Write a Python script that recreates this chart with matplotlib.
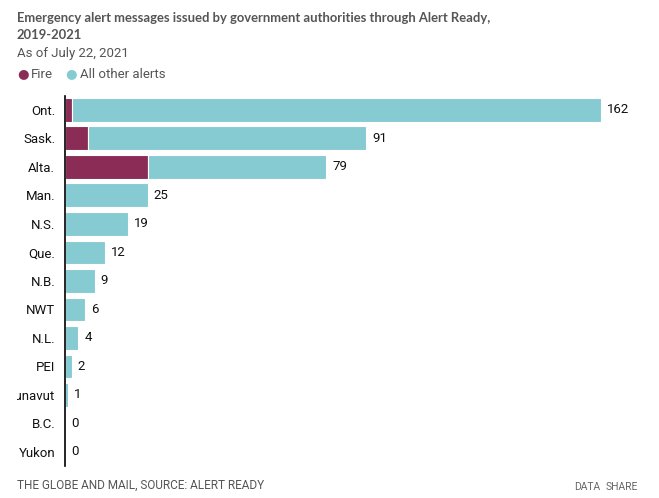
import matplotlib.pyplot as plt
from matplotlib.transforms import Bbox, TransformedBbox

provinces = ['Ont.', 'Sask.', 'Alta.', 'Man.', 'N.S.', 'Que.', 'N.B.', 'NWT',
             'N.L.', 'PEI', 'Nunavut', 'B.C.', 'Yukon']
totals = [162, 91, 79, 25, 19, 12, 9, 6, 4, 2, 1, 0, 0]
fire = [2, 7, 25, 0, 0, 0, 0, 0, 0, 0, 0, 0, 0]
other = [t - f for t, f in zip(totals, fire)]

fire_color = '#8b2c56'
other_color = '#86cad2'
grey = '#555555'

plt.rcParams['font.family'] = ['Roboto', 'DejaVu Sans']

fig = plt.figure(figsize=(6.59, 4.98), dpi=100)
ax = fig.add_axes([65 / 659, 0.0638, 536 / 659, 0.744])

y = list(range(len(provinces)))
ax.barh(y, fire, height=0.84, color=fire_color, edgecolor='white', linewidth=0.8)
ax.barh(y, other, left=fire, height=0.84, color=other_color, edgecolor='white', linewidth=0.8)

for yi, t in zip(y, totals):
    ax.text(t + 1.8, yi, str(t), va='center', ha='left', fontsize=9.5, color='#111111')

ax.set_xlim(0, 162)
ax.set_ylim(len(provinces) - 0.5, -0.5)
ax.set_yticks(y)
ax.set_yticklabels(provinces, fontsize=9.5, color='#111111')
ax.tick_params(axis='y', length=0, pad=7)
ax.set_xticks([])
for s in ['top', 'right', 'bottom']:
    ax.spines[s].set_visible(False)
ax.spines['left'].set_color('black')
ax.spines['left'].set_linewidth(1.2)

# the long label is cut off at the page margin, as in the original
clip = TransformedBbox(Bbox([[17 / 659, 0], [1, 1]]), fig.transFigure)
for lbl in ax.get_yticklabels():
    lbl.set_clip_box(clip)
    lbl.set_clip_on(True)

title_font = ['Lato', 'DejaVu Sans']
fig.text(17 / 659, 1 - 18 / 498, 'Emergency alert messages issued by government authorities through Alert Ready,',
         family=title_font, fontsize=9.4, fontweight='bold', color=grey, va='center', ha='left')
fig.text(17 / 659, 1 - 35 / 498, '2019-2021',
         family=title_font, fontsize=9.4, fontweight='bold', color=grey, va='center', ha='left')
fig.text(17 / 659, 1 - 53 / 498, 'As of July 22, 2021', fontsize=9.5, color=grey, va='center', ha='left')

fig.text(17 / 659, 1 - 74 / 498, '\u25cf', fontsize=9.5, color=fire_color, va='center', ha='left')
fig.text(31 / 659, 1 - 74 / 498, 'Fire', fontsize=9.5, color=grey, va='center', ha='left')
fig.text(65 / 659, 1 - 74 / 498, '\u25cf', fontsize=9.5, color=other_color, va='center', ha='left')
fig.text(80 / 659, 1 - 74 / 498, 'All other alerts', fontsize=9.5, color=grey, va='center', ha='left')

fig.text(17 / 659, 1 - 485 / 498, 'THE GLOBE AND MAIL, SOURCE: ALERT READY', fontsize=8.5, color=grey,
         va='center', ha='left')
fig.text(574 / 659, 1 - 487 / 498, 'DATA', fontsize=7.5, color='#666666', va='center', ha='left')
fig.text(606 / 659, 1 - 487 / 498, 'SHARE', fontsize=7.5, color='#666666', va='center', ha='left')

fig.savefig('out.png', dpi=100)
